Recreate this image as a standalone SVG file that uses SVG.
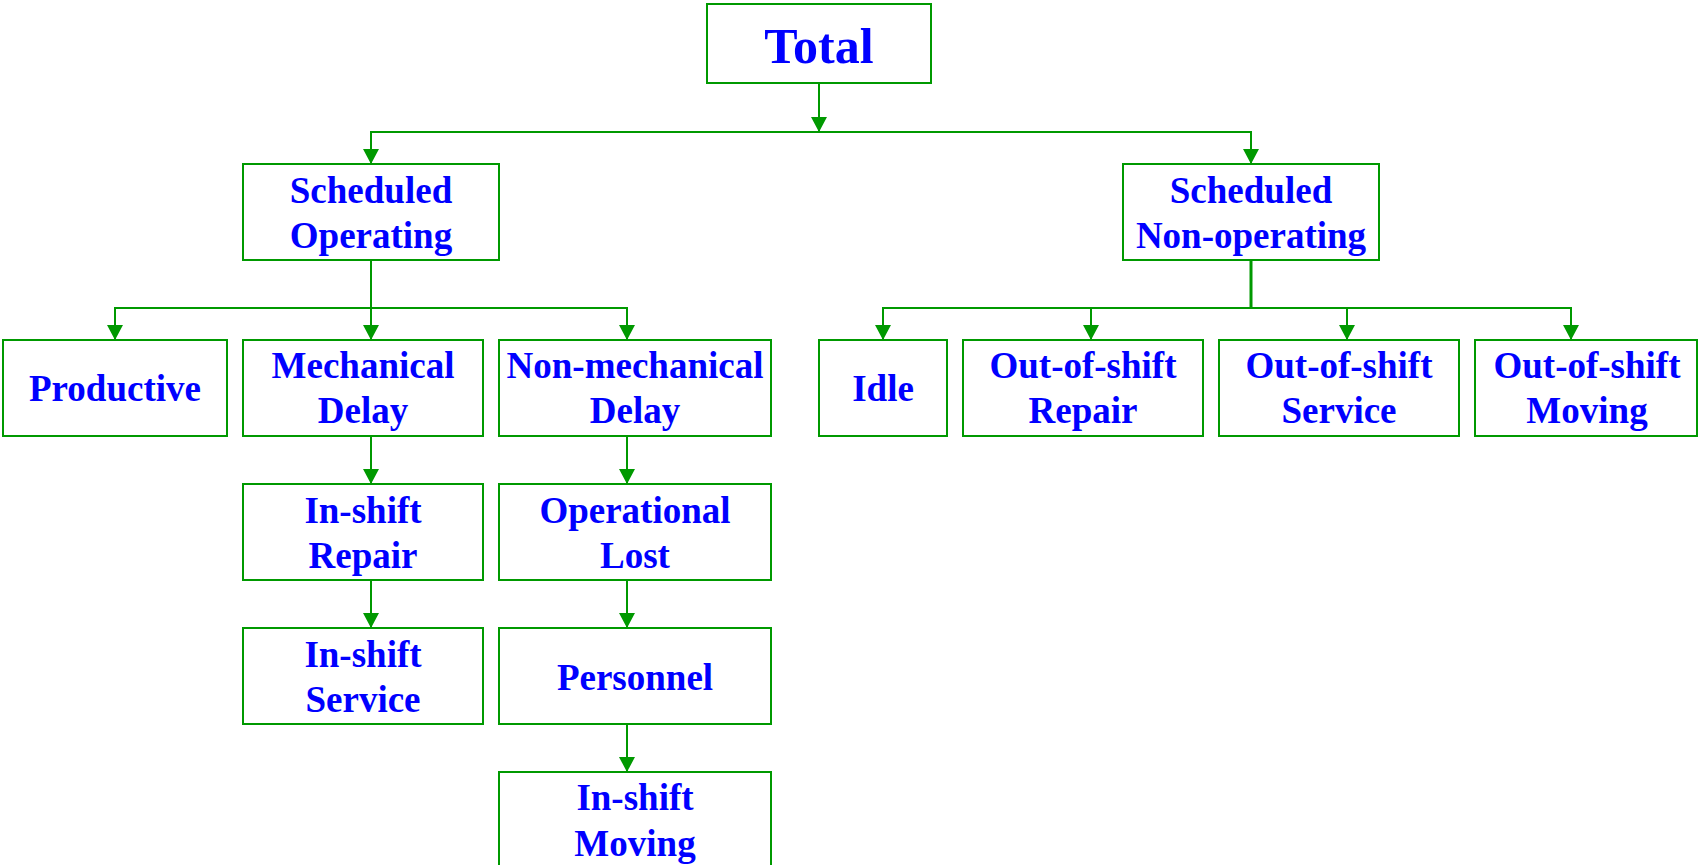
<svg xmlns="http://www.w3.org/2000/svg" width="1698" height="865" viewBox="0 0 1698 865">
<style>
.box{fill:#ffffff;stroke:#009900;stroke-width:2}
.t{font-family:"Liberation Serif","Times New Roman",serif;font-weight:bold;font-size:37px;fill:#0000ff;text-anchor:middle}
.big{font-size:50px}
.c{fill:none;stroke:#009900;stroke-width:2}
</style>
<defs>
<marker id="ah" viewBox="0 0 15 16" refX="15" refY="8" markerWidth="15" markerHeight="16" markerUnits="userSpaceOnUse" orient="auto">
<path d="M0,0 L15,8 L0,16 Z" fill="#009900"/>
</marker>
</defs>
<rect width="1698" height="865" fill="#ffffff"/>
<g id="connectors">
<line class="c" x1="819" y1="83" x2="819" y2="132" marker-end="url(#ah)"/>
<polyline class="c" points="371,164 371,132 1251,132 1251,164"/>
<line class="c" x1="371" y1="132" x2="371" y2="164" marker-end="url(#ah)"/>
<line class="c" x1="1251" y1="132" x2="1251" y2="164" marker-end="url(#ah)"/>
<line class="c" x1="371" y1="260" x2="371" y2="308"/>
<line class="c" x1="115" y1="308" x2="627" y2="308"/>
<line class="c" x1="115" y1="307" x2="115" y2="340" marker-end="url(#ah)"/>
<line class="c" x1="371" y1="308" x2="371" y2="340" marker-end="url(#ah)"/>
<line class="c" x1="627" y1="307" x2="627" y2="340" marker-end="url(#ah)"/>
<line class="c" x1="1251" y1="260" x2="1251" y2="308" style="stroke-width:3"/>
<line class="c" x1="883" y1="308" x2="1571" y2="308"/>
<line class="c" x1="883" y1="307" x2="883" y2="340" marker-end="url(#ah)"/>
<line class="c" x1="1091" y1="308" x2="1091" y2="340" marker-end="url(#ah)"/>
<line class="c" x1="1347" y1="308" x2="1347" y2="340" marker-end="url(#ah)"/>
<line class="c" x1="1571" y1="307" x2="1571" y2="340" marker-end="url(#ah)"/>
<line class="c" x1="371" y1="436" x2="371" y2="484" marker-end="url(#ah)"/>
<line class="c" x1="371" y1="580" x2="371" y2="628" marker-end="url(#ah)"/>
<line class="c" x1="627" y1="436" x2="627" y2="484" marker-end="url(#ah)"/>
<line class="c" x1="627" y1="580" x2="627" y2="628" marker-end="url(#ah)"/>
<line class="c" x1="627" y1="724" x2="627" y2="772" marker-end="url(#ah)"/>
</g>
<g id="total"><rect class="box" x="707" y="4" width="224" height="79"/><text class="t big" x="819" y="63">Total</text></g>
<g id="scheduled-operating"><rect class="box" x="243" y="164" width="256" height="96"/><text class="t" x="371" y="203">Scheduled</text><text class="t" x="371" y="248">Operating</text></g>
<g id="scheduled-non-operating"><rect class="box" x="1123" y="164" width="256" height="96"/><text class="t" x="1251" y="203">Scheduled</text><text class="t" x="1251" y="248">Non-operating</text></g>
<g id="productive"><rect class="box" x="3" y="340" width="224" height="96"/><text class="t" x="115" y="401">Productive</text></g>
<g id="mechanical-delay"><rect class="box" x="243" y="340" width="240" height="96"/><text class="t" x="363" y="378">Mechanical</text><text class="t" x="363" y="423">Delay</text></g>
<g id="non-mechanical-delay"><rect class="box" x="499" y="340" width="272" height="96"/><text class="t" x="635" y="378">Non-mechanical</text><text class="t" x="635" y="423">Delay</text></g>
<g id="idle"><rect class="box" x="819" y="340" width="128" height="96"/><text class="t" x="883" y="401">Idle</text></g>
<g id="out-of-shift-repair"><rect class="box" x="963" y="340" width="240" height="96"/><text class="t" x="1083" y="378">Out-of-shift</text><text class="t" x="1083" y="423">Repair</text></g>
<g id="out-of-shift-service"><rect class="box" x="1219" y="340" width="240" height="96"/><text class="t" x="1339" y="378">Out-of-shift</text><text class="t" x="1339" y="423">Service</text></g>
<g id="out-of-shift-moving"><rect class="box" x="1475" y="340" width="222" height="96"/><text class="t" x="1587" y="378">Out-of-shift</text><text class="t" x="1587" y="423">Moving</text></g>
<g id="in-shift-repair"><rect class="box" x="243" y="484" width="240" height="96"/><text class="t" x="363" y="523">In-shift</text><text class="t" x="363" y="568">Repair</text></g>
<g id="in-shift-service"><rect class="box" x="243" y="628" width="240" height="96"/><text class="t" x="363" y="667">In-shift</text><text class="t" x="363" y="712">Service</text></g>
<g id="operational-lost"><rect class="box" x="499" y="484" width="272" height="96"/><text class="t" x="635" y="523">Operational</text><text class="t" x="635" y="568">Lost</text></g>
<g id="personnel"><rect class="box" x="499" y="628" width="272" height="96"/><text class="t" x="635" y="690">Personnel</text></g>
<g id="in-shift-moving"><rect class="box" x="499" y="772" width="272" height="96"/><text class="t" x="635" y="810">In-shift</text><text class="t" x="635" y="856">Moving</text></g>
</svg>
